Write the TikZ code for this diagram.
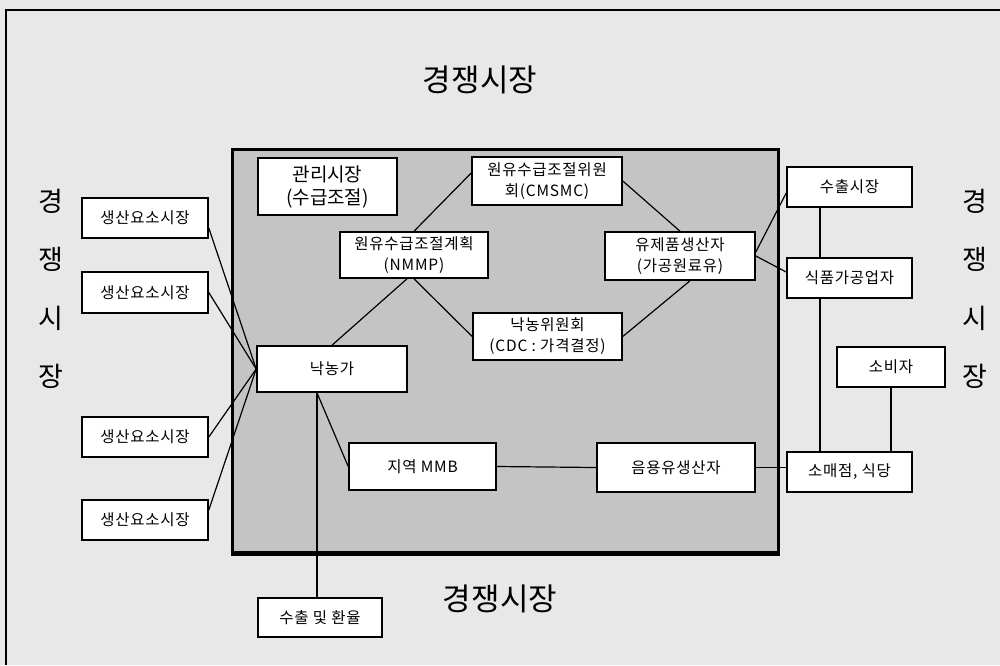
\documentclass[tikz,border=0pt]{standalone}
\usepackage{fontspec}
\setmainfont{Noto Sans CJK KR}
\definecolor{bgc}{RGB}{232,232,232}
\definecolor{innerc}{RGB}{196,196,196}
\begin{document}
\begin{tikzpicture}[x=1pt,y=-1pt,
  box/.style={draw, line width=1.6pt, fill=white, inner sep=0pt, align=center,
              font=\fontsize{15.5}{21}\selectfont\addfontfeatures{LetterSpace=5}},
  bigbox/.style={box, font=\fontsize{19}{23}\selectfont},
  conn/.style={line width=1.2pt},
  sidelbl/.style={font=\fontsize{27}{27}\selectfont, inner sep=0pt},
  titlelbl/.style={font=\fontsize{31}{31}\selectfont, inner sep=0pt}]
\useasboundingbox (0,0) rectangle (1000,665);
\fill[bgc] (0,0) rectangle (1000,665);
\draw[line width=1.5pt] (6,665) -- (6,10) -- (1000,10);
\draw[fill=innerc, line width=3pt] (232,149) rectangle (778,553);
\draw[line width=5pt] (230.5,553) -- (779.5,553);

% titles
\node[titlelbl] (ttop) at (480,80) {경쟁시장};
\node[titlelbl] (tbot) at (500,599) {경쟁시장};
\node[sidelbl] (l1) at (51,201) {경};
\node[sidelbl] (l2) at (51,259) {쟁};
\node[sidelbl] (l3) at (51,318) {시};
\node[sidelbl] (l4) at (51,376) {장};
\node[sidelbl] (r1) at (975,201) {경};
\node[sidelbl] (r2) at (975,259) {쟁};
\node[sidelbl] (r3) at (975,318) {시};
\node[sidelbl] (r4) at (975,376) {장};

% boxes
\node[bigbox, minimum width=139, minimum height=57] (mgmt) at (327.5,186.5) {관리시장\\(수급조절)};
\node[box, minimum width=150, minimum height=48] (cmsmc) at (547,181) {원유수급조절위원\\회(CMSMC)};
\node[box, minimum width=148, minimum height=46] (nmmp) at (414,255) {원유수급조절계획\\(NMMP)};
\node[box, minimum width=149, minimum height=47] (cdc) at (547.5,336.5) {낙농위원회\\(CDC : 가격결정)};
\node[box, minimum width=150, minimum height=48] (dairy) at (680,256) {유제품생산자\\(가공원료유)};
\node[box, minimum width=125, minimum height=40] (exmkt) at (849.5,187) {수출시장};
\node[box, minimum width=125, minimum height=40] (food) at (849.5,278) {식품가공업자};
\node[box, minimum width=108, minimum height=40] (cons) at (891,367) {소비자};
\node[box, minimum width=125, minimum height=40] (retail) at (849.5,472) {소매점, 식당};
\node[box, minimum width=158, minimum height=49] (fluid) at (676,467.5) {음용유생산자};
\node[box, minimum width=147, minimum height=47] (mmb) at (422.5,466.5) {지역 MMB};
\node[box, minimum width=150, minimum height=46] (farm) at (332,369) {낙농가};
\node[box, minimum width=126, minimum height=40] (f1) at (145,218) {생산요소시장};
\node[box, minimum width=126, minimum height=41] (f2) at (145,292.5) {생산요소시장};
\node[box, minimum width=126, minimum height=40] (f3) at (145,437) {생산요소시장};
\node[box, minimum width=126, minimum height=40] (f4) at (145,520) {생산요소시장};
\node[box, minimum width=124, minimum height=39] (exrate) at (320,617.5) {수출 및 환율};

% connectors
\draw[conn] ([yshift=-10pt]f1.east) -- (farm.west);
\draw[conn] (f2.east) -- (farm.west);
\draw[conn] (f3.east) -- (farm.west);
\draw[conn] ([yshift=10pt]f4.east) -- (farm.west);
\draw[conn] (farm.north) -- ([xshift=-7pt]nmmp.south);
\draw[conn] (nmmp.south) -- (cdc.west);
\draw[conn] (nmmp.north) -- ([yshift=8pt]cmsmc.west);
\draw[conn] (cmsmc.east) -- (dairy.north);
\draw[conn] (cdc.east) -- ([xshift=10pt]dairy.south);
\draw[conn] ([yshift=4pt]dairy.east) -- ([yshift=-6pt]exmkt.west);
\draw[conn] (dairy.east) -- ([yshift=6pt]food.west);
\draw[conn] ([xshift=-29.5pt]exmkt.south) -- ([xshift=-29.5pt]food.north);
\draw[conn] ([xshift=-29.5pt]food.south) -- ([xshift=-29.5pt]retail.north);
\draw[conn] (cons.south) -- (cons.south |- retail.north);
\draw[conn] ([xshift=-15pt]farm.south) -- (mmb.west);
\draw[conn] ([xshift=-15pt]farm.south) -- ([xshift=-15pt]farm.south |- exrate.north);
\draw[conn] (mmb.east) -- (fluid.west);
\draw[conn] (fluid.east) -- (fluid.east -| retail.west);
\end{tikzpicture}
\end{document}
